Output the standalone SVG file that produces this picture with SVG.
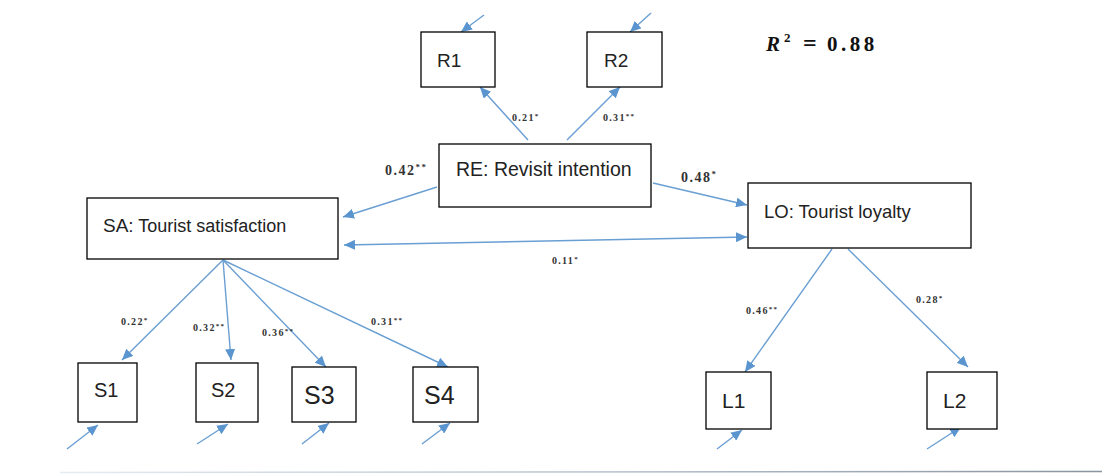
<svg xmlns="http://www.w3.org/2000/svg" width="1102" height="476" viewBox="0 0 1102 476">
<style>
.box{fill:#fff;stroke:#000;stroke-width:1.3}
.lbl{font-family:"Liberation Sans",Arial,sans-serif;fill:#222}
.c{stroke:#6a9fd3;stroke-width:1.4;fill:none}
.w{font-family:"Liberation Serif","Times New Roman",serif;font-weight:bold;fill:#333}
.s{font-size:10px;letter-spacing:1.3px}
.b{font-size:14px;letter-spacing:1.5px}
</style>
<defs>
<marker id="ah" markerUnits="userSpaceOnUse" markerWidth="12" markerHeight="10" refX="11" refY="5" orient="auto-start-reverse">
<path d="M0,0 L11,5 L0,10 z" fill="#5b95cf"/>
</marker>
<linearGradient id="bl" x1="0" x2="1" y1="0" y2="0">
<stop offset="0" stop-color="#e4ecf4"/>
<stop offset="0.5" stop-color="#b8c4d0"/>
<stop offset="1" stop-color="#8894a0"/>
</linearGradient>
</defs>
<rect width="1102" height="476" fill="#fff"/>
<line x1="60" y1="472.5" x2="1102" y2="471.5" stroke="url(#bl)" stroke-width="1.5"/>

<g id="connectors">
<line class="c" x1="528" y1="140" x2="480" y2="87" marker-end="url(#ah)"/>
<line class="c" x1="567" y1="140" x2="620" y2="87" marker-end="url(#ah)"/>
<line class="c" x1="484" y1="15" x2="461" y2="32" marker-end="url(#ah)"/>
<line class="c" x1="651" y1="13" x2="630" y2="32" marker-end="url(#ah)"/>
<line class="c" x1="437" y1="187" x2="343" y2="217" marker-end="url(#ah)"/>
<line class="c" x1="653" y1="183" x2="747" y2="205" marker-end="url(#ah)"/>
<line class="c" x1="344" y1="245" x2="747" y2="237" marker-start="url(#ah)" marker-end="url(#ah)"/>
<line class="c" x1="223" y1="260" x2="122" y2="360" marker-end="url(#ah)"/>
<line class="c" x1="223" y1="260" x2="231" y2="360" marker-end="url(#ah)"/>
<line class="c" x1="223" y1="260" x2="326" y2="367" marker-end="url(#ah)"/>
<line class="c" x1="223" y1="260" x2="448" y2="367" marker-end="url(#ah)"/>
<line class="c" x1="67" y1="449" x2="98" y2="425" marker-end="url(#ah)"/>
<line class="c" x1="197" y1="444" x2="228" y2="424" marker-end="url(#ah)"/>
<line class="c" x1="302" y1="444" x2="329" y2="423" marker-end="url(#ah)"/>
<line class="c" x1="422" y1="444" x2="450" y2="423" marker-end="url(#ah)"/>
<line class="c" x1="832" y1="249" x2="745" y2="372" marker-end="url(#ah)"/>
<line class="c" x1="848" y1="249" x2="968" y2="367" marker-end="url(#ah)"/>
<line class="c" x1="717" y1="449" x2="742" y2="430" marker-end="url(#ah)"/>
<line class="c" x1="927" y1="449" x2="961" y2="427" marker-end="url(#ah)"/>
</g>

<g id="R1"><rect class="box" x="421" y="32" width="74" height="55"/><text class="lbl" x="437" y="67" font-size="19">R1</text></g>
<g id="R2"><rect class="box" x="587" y="32" width="75" height="55"/><text class="lbl" x="604" y="67" font-size="19">R2</text></g>
<g id="RE"><rect class="box" x="439" y="144" width="212" height="63"/><text class="lbl" x="456" y="176" font-size="19.5">RE: Revisit intention</text></g>
<g id="SA"><rect class="box" x="87" y="198" width="251" height="61"/><text class="lbl" x="103" y="232" font-size="18"><tspan font-size="19">SA:</tspan> Tourist satisfaction</text></g>
<g id="LO"><rect class="box" x="748" y="183" width="223" height="65"/><text class="lbl" x="764" y="218" font-size="18.5">LO: Tourist loyalty</text></g>
<g id="S1"><rect class="box" x="78" y="363" width="59" height="59"/><text class="lbl" x="94" y="397" font-size="20">S1</text></g>
<g id="S2"><rect class="box" x="196" y="363" width="62" height="59"/><text class="lbl" x="211" y="397" font-size="20">S2</text></g>
<g id="S3"><rect class="box" x="292" y="367" width="64" height="55"/><text class="lbl" x="304" y="404" font-size="25">S3</text></g>
<g id="S4"><rect class="box" x="413" y="367" width="65" height="55"/><text class="lbl" x="424" y="404" font-size="25">S4</text></g>
<g id="L1"><rect class="box" x="706" y="372" width="65" height="57"/><text class="lbl" x="722" y="408" font-size="21">L1</text></g>
<g id="L2"><rect class="box" x="927" y="372" width="70" height="57"/><text class="lbl" x="943" y="408" font-size="21">L2</text></g>

<g id="labels">
<text class="w s" x="512" y="121">0.21<tspan dy="-3" font-size="7">*</tspan></text>
<text class="w s" x="603" y="121">0.31<tspan dy="-3" font-size="7">**</tspan></text>
<text class="w b" x="385" y="175">0.42<tspan dy="-5" font-size="9">**</tspan></text>
<text class="w b" x="681" y="182">0.48<tspan dy="-5" font-size="9">*</tspan></text>
<text class="w s" x="552" y="264">0.11<tspan dy="-3" font-size="7">*</tspan></text>
<text class="w s" x="121" y="325">0.22<tspan dy="-3" font-size="7">*</tspan></text>
<text class="w s" x="193" y="331">0.32<tspan dy="-3" font-size="7">**</tspan></text>
<text class="w s" x="262" y="336">0.36<tspan dy="-3" font-size="7">**</tspan></text>
<text class="w s" x="371" y="325">0.31<tspan dy="-3" font-size="7">**</tspan></text>
<text class="w s" x="746" y="314">0.46<tspan dy="-3" font-size="7">**</tspan></text>
<text class="w s" x="916" y="303">0.28<tspan dy="-3" font-size="7">*</tspan></text>
<text y="51" font-family="Liberation Serif,'DejaVu Serif',serif" font-weight="bold" font-size="21" fill="#111"><tspan x="766" font-style="italic">R</tspan><tspan x="784" y="42" font-size="13">2</tspan><tspan x="803" y="51" font-size="24">=</tspan><tspan x="827" letter-spacing="3.5">0.88</tspan></text>
</g>
</svg>
